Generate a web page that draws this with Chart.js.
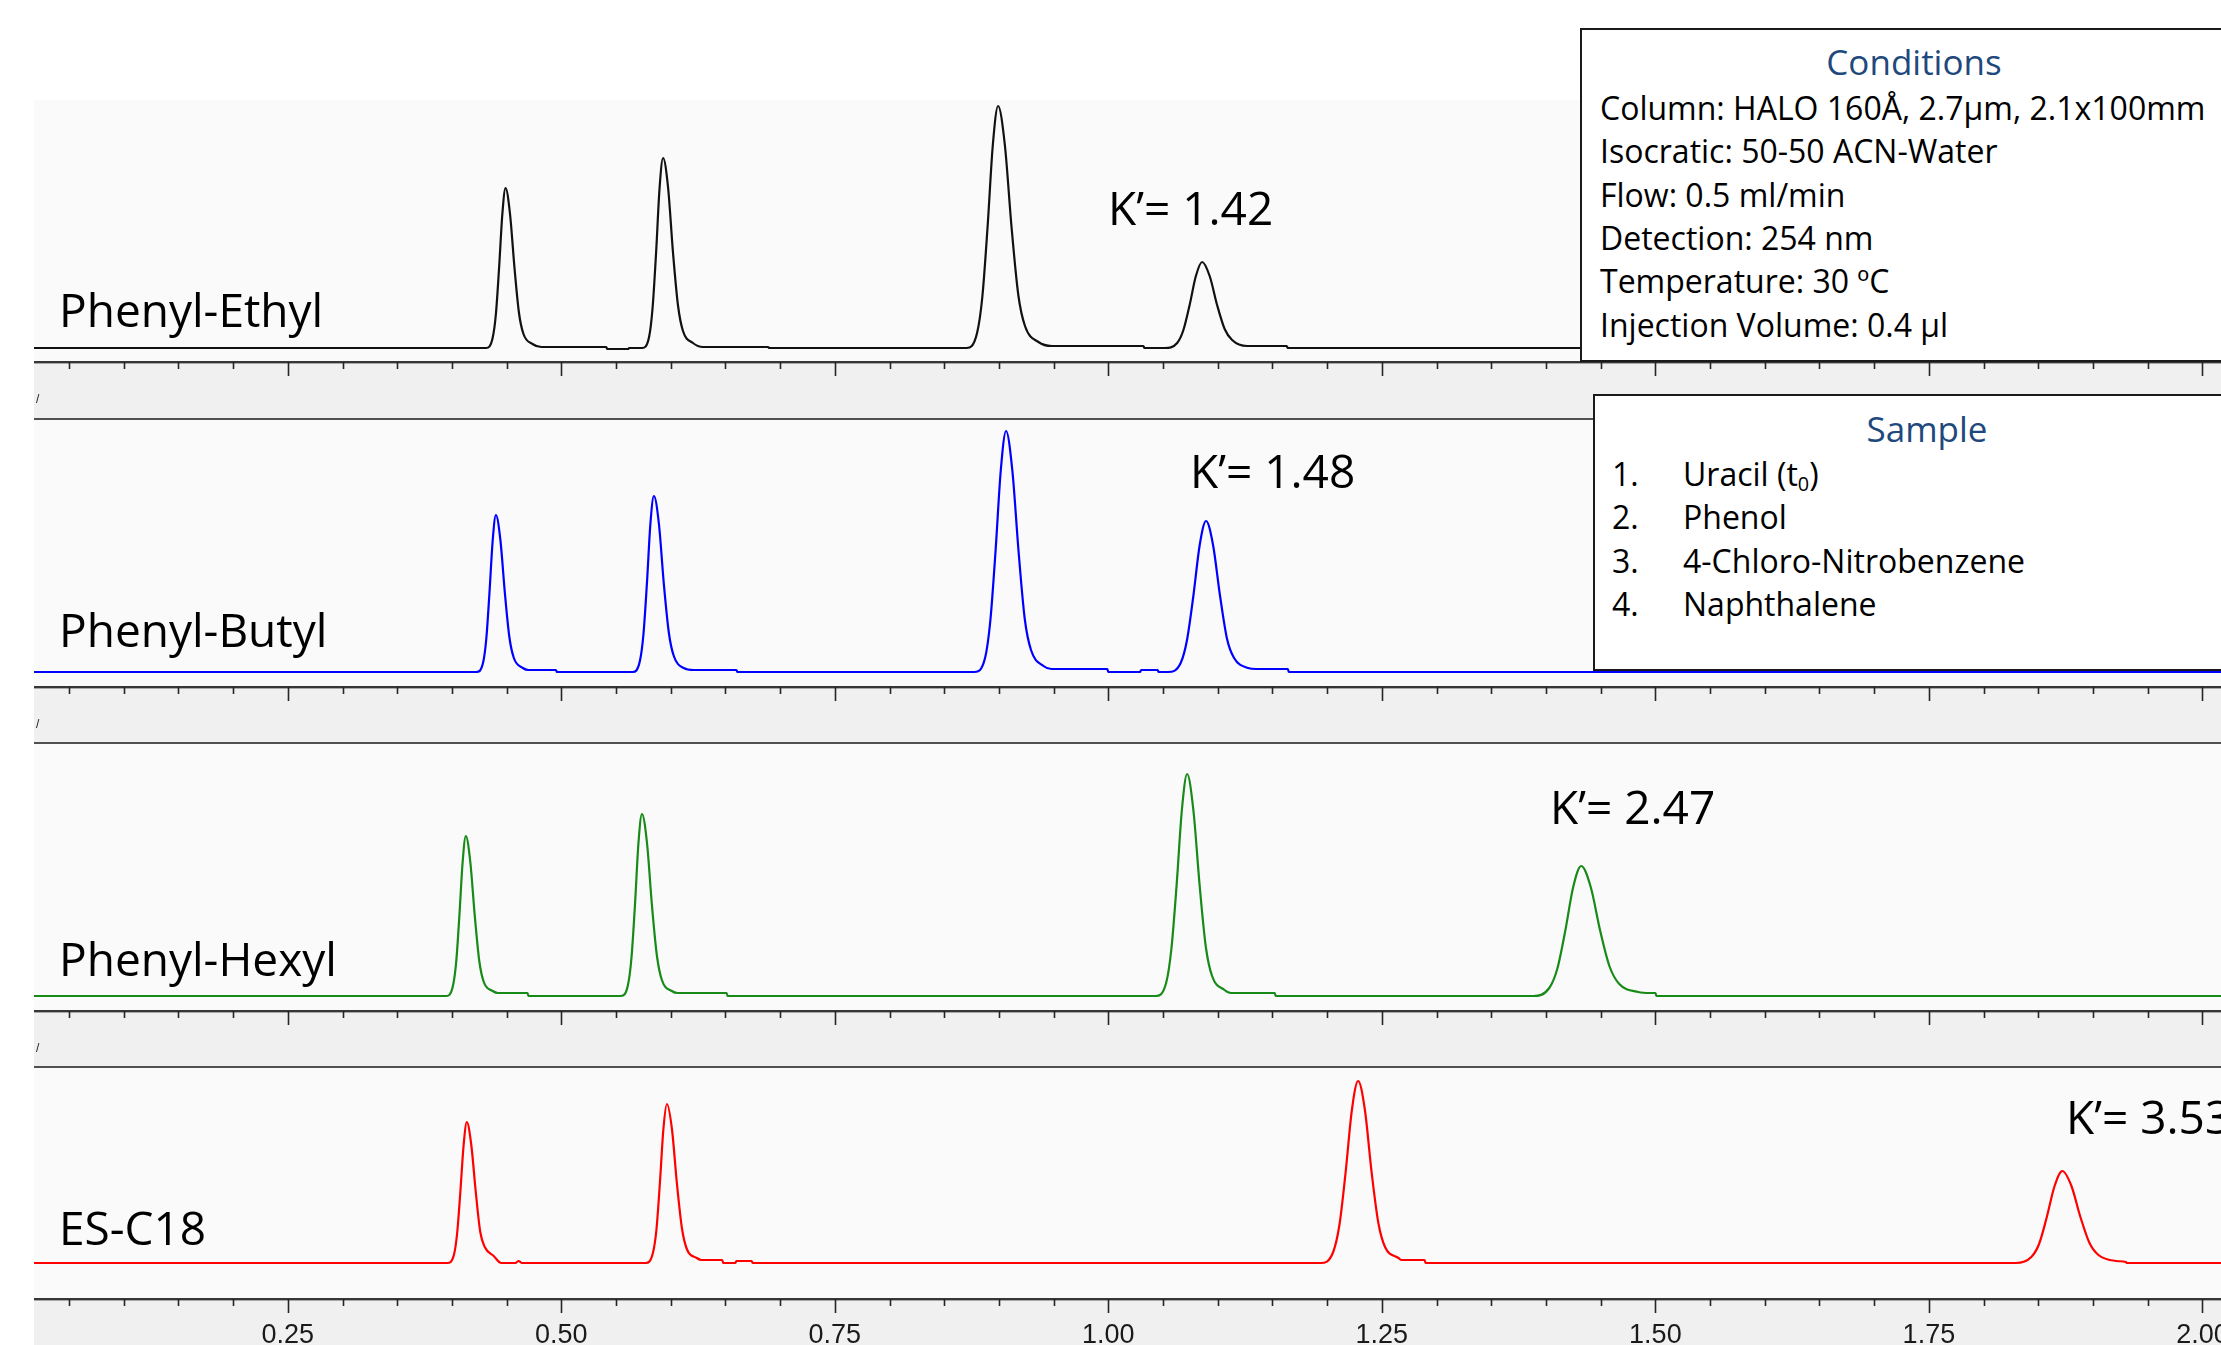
<!DOCTYPE html>
<html>
<head>
<meta charset="utf-8">
<title>HALO phenyl phases – selectivity</title>
<script src="https://cdn.jsdelivr.net/npm/chart.js@4.4.1/dist/chart.umd.min.js"></script>
<style>
    html, body { margin: 0; padding: 0; background: #fff; }
    #page {
        position: relative;
        width: 2221px;
        height: 1345px;
        overflow: hidden;
        background: #fff;
        font-family: "Open Sans", sans-serif;
        color: #000;
    }
    .panel { position: absolute; left: 34px; width: 2187px; }
    .panel canvas { display: block; }
    .lbl { position: absolute; white-space: nowrap; line-height: 1; }
    .trace-name { font-size: 46px; left: 59px; }
    .kprime { font-size: 46px; }
    .box {
        position: absolute;
        background: #fff;
        border: 2px solid #1a1a1a;
        box-sizing: border-box;
    }
    .box-title { color: #1F497D; font-size: 35px; text-align: center; width: 668px; }
    .box-line { font-size: 32px; }
    .box-line sub { font-size: 0.62em; line-height: 0; vertical-align: -0.25em; }
    .stub { font: 12px "Liberation Sans", sans-serif; color: #222; left: 36px; }
</style>
</head>
<body>
<div id="page">
    <div class="panel" style="top:100px;height:318px"><canvas id="panel0" width="2187" height="318"></canvas></div>
    <div class="panel" style="top:418px;height:324px"><canvas id="panel1" width="2187" height="324"></canvas></div>
    <div class="panel" style="top:742px;height:324px"><canvas id="panel2" width="2187" height="324"></canvas></div>
    <div class="panel" style="top:1066px;height:279px"><canvas id="panel3" width="2187" height="279"></canvas></div>

    <div class="lbl stub" style="top:392px">/</div>
    <div class="lbl stub" style="top:717px">/</div>
    <div class="lbl stub" style="top:1041px">/</div>

    <div class="lbl trace-name" style="top:286px">Phenyl-Ethyl</div>
    <div class="lbl trace-name" style="top:606px">Phenyl-Butyl</div>
    <div class="lbl trace-name" style="top:935px">Phenyl-Hexyl</div>
    <div class="lbl trace-name" style="top:1204px">ES-C18</div>

    <div class="lbl kprime" style="top:184px;left:1108px">K’= 1.42</div>
    <div class="lbl kprime" style="top:447px;left:1190px">K’= 1.48</div>
    <div class="lbl kprime" style="top:783px;left:1550px">K’= 2.47</div>
    <div class="lbl kprime" style="top:1093px;left:2066px">K’= 3.53</div>

    <!-- Conditions box -->
    <div class="box" style="left:1580px;top:28px;width:680px;height:334px"></div>
    <div class="lbl box-title" style="left:1580px;top:44px">Conditions</div>
    <div class="lbl box-line" style="left:1600px;top:92px">Column: HALO 160Å, 2.7µm, 2.1x100mm</div>
    <div class="lbl box-line" style="left:1600px;top:135px">Isocratic: 50-50 ACN-Water</div>
    <div class="lbl box-line" style="left:1600px;top:179px">Flow: 0.5 ml/min</div>
    <div class="lbl box-line" style="left:1600px;top:222px">Detection: 254 nm</div>
    <div class="lbl box-line" style="left:1600px;top:265px">Temperature: 30 ºC</div>
    <div class="lbl box-line" style="left:1600px;top:309px">Injection Volume: 0.4 µl</div>

    <!-- Sample box -->
    <div class="box" style="left:1593px;top:394px;width:680px;height:277px"></div>
    <div class="lbl box-title" style="left:1593px;top:411px">Sample</div>
    <div class="lbl box-line" style="left:1612px;top:458px">1.</div>
    <div class="lbl box-line" style="left:1683px;top:458px">Uracil (t<sub>0</sub>)</div>
    <div class="lbl box-line" style="left:1612px;top:501px">2.</div>
    <div class="lbl box-line" style="left:1683px;top:501px">Phenol</div>
    <div class="lbl box-line" style="left:1612px;top:545px">3.</div>
    <div class="lbl box-line" style="left:1683px;top:545px">4-Chloro-Nitrobenzene</div>
    <div class="lbl box-line" style="left:1612px;top:588px">4.</div>
    <div class="lbl box-line" style="left:1683px;top:588px">Naphthalene</div>
</div>

<script>
// ===============================
//  CHROMATOGRAM DATA  [time (min), signal]
// ===============================
const PHENYL_ETHYL = [
    [0.018, 0],
    [0.4313, 0], [0.4372, 10], [0.4402, 34], [0.4431, 80], [0.4461, 134], [0.4490, 160],
    [0.4531, 134], [0.4572, 80], [0.4613, 35], [0.4654, 14], [0.4736, 4], [0.4818, 1],
    [0.5410, 1], [0.5420, -1], [0.5610, -1], [0.5620, 0],
    [0.5738, 0], [0.5802, 11], [0.5834, 40], [0.5866, 95], [0.5898, 160], [0.5930, 190],
    [0.5976, 160], [0.6021, 95], [0.6067, 42], [0.6112, 17], [0.6203, 5], [0.6294, 1],
    [0.6890, 1], [0.6900, 0],
    [0.8704, 0], [0.8800, 15], [0.8848, 51], [0.8896, 121], [0.8944, 203], [0.8992, 242],
    [0.9054, 203], [0.9115, 121], [0.9177, 53], [0.9238, 22], [0.9361, 6], [0.9484, 2],
    [1.0320, 2], [1.0330, 0],
    [1.0515, 0], [1.0629, 5], [1.0686, 18], [1.0743, 43], [1.0800, 72], [1.0857, 86],
    [1.0926, 72], [1.0994, 43], [1.1063, 19], [1.1131, 8], [1.1268, 2], [1.1630, 2],
    [1.1640, 0],
    [2.017, 0]
];

const PHENYL_BUTYL = [
    [0.018, 0],
    [0.4225, 0], [0.4284, 9], [0.4314, 33], [0.4343, 79], [0.4373, 132], [0.4402, 157],
    [0.4443, 132], [0.4484, 79], [0.4525, 35], [0.4566, 14], [0.4648, 4], [0.4700, 2],
    [0.4950, 2], [0.4960, 0],
    [0.5654, 0], [0.5718, 11], [0.5750, 37], [0.5782, 88], [0.5814, 148], [0.5846, 176],
    [0.5892, 148], [0.5937, 88], [0.5983, 39], [0.6028, 16], [0.6119, 4], [0.6210, 2],
    [0.6600, 2], [0.6610, 0],
    [0.8777, 0], [0.8873, 14], [0.8921, 51], [0.8969, 121], [0.9017, 202], [0.9065, 241],
    [0.9122, 202], [0.9179, 121], [0.9236, 53], [0.9293, 22], [0.9407, 6], [0.9480, 3],
    [0.9990, 3], [1.0000, 0], [1.0290, 0], [1.0300, 2], [1.0450, 2], [1.0460, 0],
    [1.0545, 0], [1.0661, 9], [1.0719, 32], [1.0777, 76], [1.0835, 127], [1.0893, 151],
    [1.0957, 127], [1.1021, 76], [1.1085, 33], [1.1149, 14], [1.1277, 4], [1.1350, 3],
    [1.1640, 3], [1.1650, 0],
    [2.017, 0]
];

const PHENYL_HEXYL = [
    [0.018, 0],
    [0.3950, 0], [0.4009, 10], [0.4039, 34], [0.4068, 80], [0.4098, 134], [0.4127, 160],
    [0.4168, 134], [0.4209, 80], [0.4250, 35], [0.4291, 14], [0.4373, 5], [0.4420, 3],
    [0.4690, 3], [0.4700, 0],
    [0.5545, 0], [0.5609, 11], [0.5641, 38], [0.5673, 91], [0.5705, 153], [0.5737, 182],
    [0.5783, 153], [0.5828, 91], [0.5874, 40], [0.5919, 16], [0.6010, 5], [0.6060, 3],
    [0.6510, 3], [0.6520, 0],
    [1.0432, 0], [1.0528, 13], [1.0576, 47], [1.0624, 111], [1.0672, 186], [1.0720, 222],
    [1.0777, 186], [1.0834, 111], [1.0891, 49], [1.0948, 20], [1.1062, 6], [1.1120, 3],
    [1.1520, 3], [1.1530, 0],
    [1.3884, 0], [1.4030, 8], [1.4103, 27], [1.4176, 65], [1.4249, 109], [1.4322, 130],
    [1.4409, 109], [1.4496, 65], [1.4583, 29], [1.4670, 12], [1.4844, 4], [1.4950, 3],
    [1.5000, 3], [1.5010, 0],
    [2.017, 0]
];

const ES_C18 = [
    [0.018, 0],
    [0.3959, 0], [0.4018, 8], [0.4048, 30], [0.4077, 71], [0.4107, 118], [0.4136, 141],
    [0.4177, 118], [0.4218, 71], [0.4259, 31], [0.4300, 16], [0.4382, 7], [0.4450, 0],
    [0.4580, 0], [0.4610, 2], [0.4640, 0],
    [0.5773, 0], [0.5837, 10], [0.5869, 33], [0.5901, 80], [0.5933, 134], [0.5965, 159],
    [0.6011, 134], [0.6056, 80], [0.6102, 35], [0.6147, 14], [0.6238, 5], [0.6280, 3],
    [0.6470, 3], [0.6480, 0], [0.6590, 0], [0.6600, 2], [0.6740, 2], [0.6750, 0],
    [1.1941, 0], [1.2055, 11], [1.2112, 38], [1.2169, 91], [1.2226, 153], [1.2283, 182],
    [1.2345, 153], [1.2406, 91], [1.2468, 40], [1.2529, 16], [1.2652, 5], [1.2680, 3],
    [1.2890, 3], [1.2900, 0],
    [1.8294, 0], [1.8436, 6], [1.8507, 19], [1.8578, 46], [1.8649, 77], [1.8720, 92],
    [1.8803, 77], [1.8885, 46], [1.8968, 20], [1.9050, 8], [1.9215, 2], [1.9300, 1],
    [1.9310, 0],
    [2.017, 0]
];

// ===============================
//  AXIS TICKS
// ===============================
const TIME_MIN = 0.018;
const TIME_MAX = 2.017;
const ALL_TICKS = [
    0.05, 0.10, 0.15, 0.20, 0.25, 0.30, 0.35, 0.40, 0.45, 0.50,
    0.55, 0.60, 0.65, 0.70, 0.75, 0.80, 0.85, 0.90, 0.95, 1.00,
    1.05, 1.10, 1.15, 1.20, 1.25, 1.30, 1.35, 1.40, 1.45, 1.50,
    1.55, 1.60, 1.65, 1.70, 1.75, 1.80, 1.85, 1.90, 1.95, 2.00
];
const MAJOR_TICKS = [0.25, 0.50, 0.75, 1.00, 1.25, 1.50, 1.75, 2.00];
const TICK_LABELS = ["0.25", "0.50", "0.75", "1.00", "1.25", "1.50", "1.75", "2.00"];

// ===============================
//  PANEL SETTINGS
// ===============================
const TRACES = [PHENYL_ETHYL, PHENYL_BUTYL, PHENYL_HEXYL, ES_C18];
const TRACE_COLOURS = ["#111111", "#0000ff", "#178a17", "#ff0000"];
const Y_RANGES = [[-14, 248], [-15, 254], [-15, 254], [-36, 197]];
const BAND_HEIGHTS = [56, 55, 55, 46];

// background, frame lines and tick marks of each strip
const panelDecor = {
    id: "panelDecor",
    beforeDraw(chart) {
        const { ctx, chartArea: a, width, height } = chart;
        ctx.save();
        ctx.fillStyle = "#f0f0f0";
        ctx.fillRect(0, 0, width, height);
        ctx.fillStyle = "#fafafa";
        ctx.fillRect(a.left, a.top, a.right - a.left, a.bottom - a.top);
        ctx.restore();
    },
    afterDraw(chart, args, opts) {
        const { ctx, chartArea: a, scales: { x } } = chart;
        ctx.save();
        if (opts.topBorder) {
            ctx.fillStyle = "#505050";
            ctx.fillRect(a.left, a.top, a.right - a.left, 2);
        }
        ctx.fillStyle = "#363636";
        ctx.fillRect(a.left, a.bottom - 1, a.right - a.left, 2);
        ctx.fillStyle = "#a8a8a8";
        ctx.fillRect(a.left, a.bottom + 1, a.right - a.left, 1);

        ctx.strokeStyle = "#262626";
        ctx.lineWidth = 1.6;
        ctx.beginPath();
        ALL_TICKS.forEach(v => {
            const px = Math.round(x.getPixelForValue(v)) + 0.5;
            const len = MAJOR_TICKS.includes(v) ? 14 : 7;
            ctx.moveTo(px, a.bottom);
            ctx.lineTo(px, a.bottom + len);
        });
        ctx.stroke();
        ctx.restore();
    }
};

function buildPanel(i) {
    const canvas = document.getElementById("panel" + i);
    const showLabels = i === TRACES.length - 1;

    return new Chart(canvas, {
        type: "line",
        data: {
            datasets: [{
                data: TRACES[i].map(([t, s]) => ({ x: t, y: s })),
                borderColor: TRACE_COLOURS[i],
                borderWidth: 2.2,
                pointRadius: 0,
                cubicInterpolationMode: "monotone",
                fill: false
            }]
        },
        options: {
            responsive: false,
            animation: false,
            devicePixelRatio: 1,
            events: [],
            layout: { padding: 0 },
            plugins: {
                legend: { display: false },
                tooltip: { enabled: false },
                panelDecor: { topBorder: i > 0 }
            },
            scales: {
                x: {
                    type: "linear",
                    min: TIME_MIN,
                    max: TIME_MAX,
                    grid: { display: false, drawTicks: false },
                    border: { display: false },
                    afterBuildTicks: s => { s.ticks = MAJOR_TICKS.map(v => ({ value: v })); },
                    afterFit: s => {
                        s.height = BAND_HEIGHTS[i];
                        s.paddingLeft = 0;
                        s.paddingRight = 0;
                    },
                    ticks: {
                        display: showLabels,
                        autoSkip: false,
                        maxRotation: 0,
                        minRotation: 0,
                        padding: 20,
                        color: "#1a1a1a",
                        font: { family: "Liberation Sans", size: 27 },
                        callback: (v, idx) => TICK_LABELS[idx]
                    }
                },
                y: {
                    display: false,
                    min: Y_RANGES[i][0],
                    max: Y_RANGES[i][1]
                }
            }
        },
        plugins: [panelDecor]
    });
}

TRACES.forEach((t, i) => buildPanel(i));
</script>
</body>
</html>
